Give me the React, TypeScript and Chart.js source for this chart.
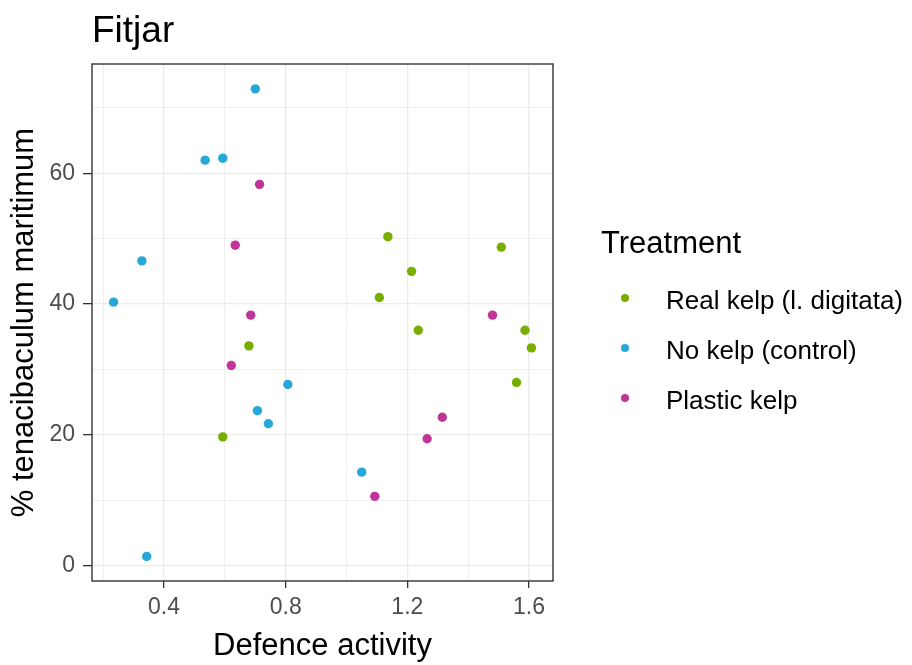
import React, { useEffect, useRef } from "react";
import { Chart, registerables } from "chart.js";

Chart.register(...registerables);

const title = "Fitjar";
const xTitle = "Defence activity";
const yTitle = "% tenacibaculum maritimum";
const legendTitle = "Treatment";

const seriesNames = ["Real kelp (l. digitata)", "No kelp (control)", "Plastic kelp"];
const seriesColors = ["#77AE00", "#27A9D8", "#C1359A"];

const realKelpX = [1.136, 1.509, 1.214, 1.108, 1.236, 1.587, 1.608, 0.679, 1.559, 0.593];
const realKelpY = [50.3, 48.7, 45.0, 41.0, 36.0, 36.0, 33.3, 33.6, 28.0, 19.7];

const noKelpX = [0.7, 0.535, 0.593, 0.327, 0.234, 0.807, 0.707, 0.743, 1.05, 0.343];
const noKelpY = [72.9, 62.0, 62.3, 46.6, 40.3, 27.7, 23.7, 21.7, 14.3, 1.4];

const plasticX = [0.714, 0.634, 0.685, 1.48, 0.621, 1.315, 1.265, 1.093];
const plasticY = [58.3, 49.0, 38.3, 38.3, 30.6, 22.7, 19.4, 10.6];

const xTicks = [0.2, 0.4, 0.6, 0.8, 1.0, 1.2, 1.4, 1.6];
const xMajor = [0.4, 0.8, 1.2, 1.6];
const yTicks = [0, 10, 20, 30, 40, 50, 60, 70];
const yMajor = [0, 20, 40, 60];

const xMin = 0.163;
const xMax = 1.679;
const yMin = -2.34;
const yMax = 76.7;

const FONT = "'Liberation Sans', Arial, sans-serif";

const isMajor = (arr: number[], v: number) => arr.some((m) => Math.abs(m - v) < 1e-6);

export default function App() {
  const ref = useRef<HTMLCanvasElement | null>(null);

  useEffect(() => {
    document.body.style.margin = "0";
    const canvas = ref.current;
    if (!canvas) return;

    const zip = (xs: number[], ys: number[]) => xs.map((x, i) => ({ x, y: ys[i] }));

    const decor = {
      id: "decor",
      afterDraw(chart: any) {
        const { ctx, chartArea } = chart;
        ctx.save();
        // panel border
        ctx.strokeStyle = "#333333";
        ctx.lineWidth = 1.4;
        ctx.strokeRect(chartArea.left, chartArea.top, chartArea.right - chartArea.left, chartArea.bottom - chartArea.top);
        // title
        ctx.fillStyle = "#000000";
        ctx.font = `37px ${FONT}`;
        ctx.textAlign = "left";
        ctx.textBaseline = "alphabetic";
        ctx.fillText(title, 92, 42);
        // axis titles
        ctx.font = `31px ${FONT}`;
        ctx.textAlign = "center";
        ctx.fillText(xTitle, (chartArea.left + chartArea.right) / 2, 655);
        ctx.save();
        ctx.translate(33, (chartArea.top + chartArea.bottom) / 2);
        ctx.rotate(-Math.PI / 2);
        ctx.fillText(yTitle, 0, 0);
        ctx.restore();
        // legend
        ctx.textAlign = "left";
        ctx.font = `31px ${FONT}`;
        ctx.fillText(legendTitle, 601, 253);
        ctx.font = `26px ${FONT}`;
        const dotYs = [298, 348, 398];
        seriesNames.forEach((name, i) => {
          ctx.fillStyle = seriesColors[i];
          ctx.beginPath();
          ctx.arc(625, dotYs[i], 4, 0, Math.PI * 2);
          ctx.fill();
          ctx.fillStyle = "#000000";
          ctx.fillText(name, 666, dotYs[i] + 11);
        });
        ctx.restore();
      },
    };

    const chart = new Chart(canvas, {
      type: "scatter",
      data: {
        datasets: [
          { label: seriesNames[0], data: zip(realKelpX, realKelpY), backgroundColor: seriesColors[0] },
          { label: seriesNames[1], data: zip(noKelpX, noKelpY), backgroundColor: seriesColors[1] },
          { label: seriesNames[2], data: zip(plasticX, plasticY), backgroundColor: seriesColors[2] },
        ],
      },
      options: {
        animation: false,
        responsive: true,
        maintainAspectRatio: false,
        layout: { padding: { top: 64, right: 359, left: 0, bottom: 0 } },
        elements: { point: { radius: 4.7, borderWidth: 0, hoverRadius: 4.7 } },
        plugins: { legend: { display: false }, tooltip: { enabled: false }, title: { display: false } },
        scales: {
          x: {
            type: "linear",
            min: xMin,
            max: xMax,
            afterBuildTicks: (scale: any) => {
              scale.ticks = xTicks.map((v) => ({ value: v }));
            },
            afterFit: (scale: any) => {
              scale.height = 84;
            },
            ticks: {
              autoSkip: false,
              maxRotation: 0,
              padding: 6,
              color: "#4D4D4D",
              font: { family: FONT, size: 23 },
              callback: (v: any) => (isMajor(xMajor, Number(v)) ? Number(v).toFixed(1) : ""),
            },
            grid: {
              color: "#EBEBEB",
              lineWidth: (c: any) => (c.tick && isMajor(xMajor, c.tick.value) ? 1.3 : 0.8),
              tickColor: (c: any) => (c.tick && isMajor(xMajor, c.tick.value) ? "#333333" : "rgba(0,0,0,0)"),
              tickLength: 7,
              tickWidth: 1.3,
            },
            border: { display: false },
          },
          y: {
            type: "linear",
            min: yMin,
            max: yMax,
            afterBuildTicks: (scale: any) => {
              scale.ticks = yTicks.map((v) => ({ value: v }));
            },
            afterFit: (scale: any) => {
              scale.width = 92;
            },
            ticks: {
              autoSkip: false,
              padding: 8,
              color: "#4D4D4D",
              font: { family: FONT, size: 23 },
              callback: (v: any) => (isMajor(yMajor, Number(v)) ? String(v) : ""),
            },
            grid: {
              color: "#EBEBEB",
              lineWidth: (c: any) => (c.tick && isMajor(yMajor, c.tick.value) ? 1.3 : 0.8),
              tickColor: (c: any) => (c.tick && isMajor(yMajor, c.tick.value) ? "#333333" : "rgba(0,0,0,0)"),
              tickLength: 9,
              tickWidth: 1.3,
            },
            border: { display: false },
          },
        },
      },
      plugins: [decor],
    });

    return () => chart.destroy();
  }, []);

  return (
    <div style={{ width: 912, height: 665, position: "relative" }}>
      <canvas ref={ref} />
    </div>
  );
}
